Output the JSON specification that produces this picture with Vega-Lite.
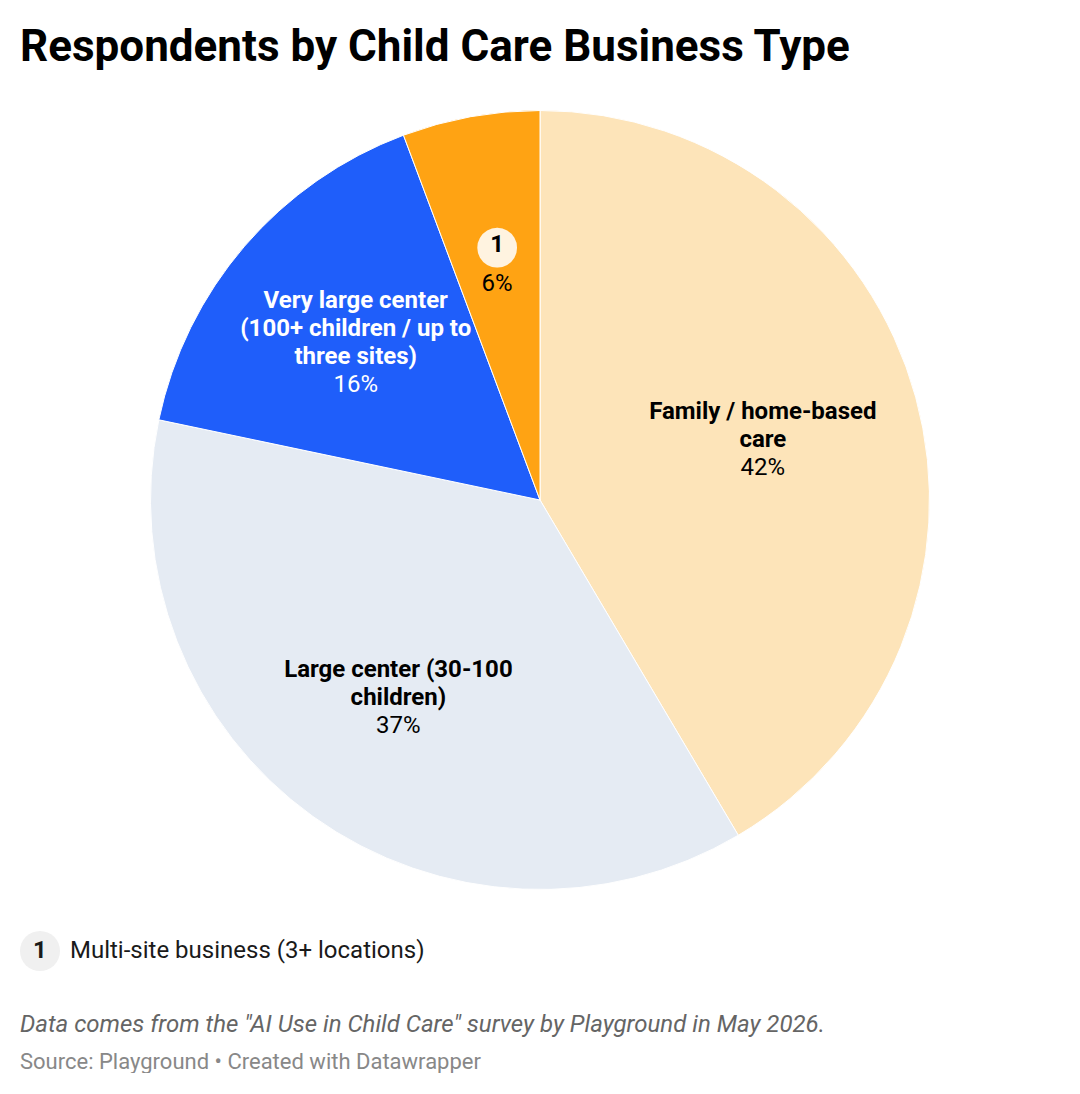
{
  "$schema": "https://vega.github.io/schema/vega-lite/v6.json",
  "padding": {"top": 26, "left": 0, "right": 0, "bottom": 0},
  "background": "white",
  "spacing": 0,
  "title": {
    "text": "Respondents by Child Care Business Type",
    "anchor": "start",
    "frame": "group",
    "dx": 20,
    "offset": 30,
    "font": "Roboto",
    "fontSize": 44,
    "fontWeight": 700,
    "color": "#000000"
  },
  "config": {"view": {"stroke": null}, "font": "Roboto"},
  "vconcat": [
    {
      "width": 1080,
      "height": 800,
      "data": {
        "values": [
          {"type": "Family / home-based care", "share": 41.5, "rank": 1, "name": "Family / home-based\ncare", "pct": "42%"},
          {"type": "Large center (30-100 children)", "share": 36.8, "rank": 2, "name": "Large center (30-100\nchildren)", "pct": "37%"},
          {"type": "Very large center (100+ children / up to three sites)", "share": 16.0, "rank": 3, "name": "Very large center\n(100+ children / up to\nthree sites)", "pct": "16%"},
          {"type": "Multi-site business (3+ locations)", "share": 5.7, "rank": 4, "name": "1", "pct": "6%"}
        ]
      },
      "encoding": {
        "theta": {"field": "share", "type": "quantitative", "stack": true},
        "order": {"field": "rank", "type": "ordinal"},
        "detail": {"field": "type", "type": "nominal"}
      },
      "layer": [
        {
          "mark": {"type": "arc", "outerRadius": 389.5, "stroke": "white", "strokeWidth": 1},
          "encoding": {
            "color": {
              "field": "type",
              "type": "nominal",
              "legend": null,
              "scale": {
                "domain": [
                  "Family / home-based care",
                  "Large center (30-100 children)",
                  "Very large center (100+ children / up to three sites)",
                  "Multi-site business (3+ locations)"
                ],
                "range": ["#fde4b9", "#e5ebf3", "#1f5efa", "#ffa313"]
              }
            }
          }
        },
        {
          "mark": {"type": "text", "lineBreak": "\n", "lineHeight": 28, "fontSize": 24, "fontWeight": 700, "dy": -27, "color": "#000000"},
          "encoding": {
            "text": {"condition": {"test": "datum.rank === 1", "field": "name", "type": "nominal"}, "value": ""},
            "radius": {"value": 231}
          }
        },
        {
          "mark": {"type": "text", "fontSize": 24, "dy": 29, "color": "#000000"},
          "encoding": {
            "text": {"condition": {"test": "datum.rank === 1", "field": "pct", "type": "nominal"}, "value": ""},
            "radius": {"value": 231}
          }
        },
        {
          "mark": {"type": "text", "lineBreak": "\n", "lineHeight": 28, "fontSize": 24, "fontWeight": 700, "dy": -27, "color": "#000000"},
          "encoding": {
            "text": {"condition": {"test": "datum.rank === 2", "field": "name", "type": "nominal"}, "value": ""},
            "radius": {"value": 243}
          }
        },
        {
          "mark": {"type": "text", "fontSize": 24, "dy": 29, "color": "#000000"},
          "encoding": {
            "text": {"condition": {"test": "datum.rank === 2", "field": "pct", "type": "nominal"}, "value": ""},
            "radius": {"value": 243}
          }
        },
        {
          "mark": {"type": "text", "lineBreak": "\n", "lineHeight": 28, "fontSize": 24, "fontWeight": 700, "dy": -41, "color": "#ffffff"},
          "encoding": {
            "text": {"condition": {"test": "datum.rank === 3", "field": "name", "type": "nominal"}, "value": ""},
            "radius": {"value": 243}
          }
        },
        {
          "mark": {"type": "text", "fontSize": 24, "dy": 43, "color": "#ffffff"},
          "encoding": {
            "text": {"condition": {"test": "datum.rank === 3", "field": "pct", "type": "nominal"}, "value": ""},
            "radius": {"value": 243}
          }
        },
        {
          "mark": {"type": "text", "fontSize": 52, "font": "DejaVu Sans", "dy": -18, "color": "#fff3e0"},
          "encoding": {
            "text": {"condition": {"test": "datum.rank === 4", "value": "●"}, "value": ""},
            "radius": {"value": 241}
          }
        },
        {
          "mark": {"type": "text", "fontSize": 24, "fontWeight": 700, "dy": -18, "color": "#000000"},
          "encoding": {
            "text": {"condition": {"test": "datum.rank === 4", "field": "name", "type": "nominal"}, "value": ""},
            "radius": {"value": 241}
          }
        },
        {
          "mark": {"type": "text", "fontSize": 24, "dy": 21, "color": "#000000"},
          "encoding": {
            "text": {"condition": {"test": "datum.rank === 4", "field": "pct", "type": "nominal"}, "value": ""},
            "radius": {"value": 241}
          }
        }
      ]
    },
    {
      "width": 1080,
      "height": 168,
      "data": {
        "values": [
          {"line": "note", "marker": "1", "text": "Multi-site business (3+ locations)"},
          {"line": "data", "text": "Data comes from the \"AI Use in Child Care\" survey by Playground in May 2026."},
          {"line": "source", "text": "Source: Playground • Created with Datawrapper"}
        ]
      },
      "encoding": {
        "y": {
          "field": "line",
          "type": "nominal",
          "axis": null,
          "scale": {"type": "point", "padding": 0, "domain": ["note", "gap", "data", "source"], "range": [51, 162]}
        }
      },
      "layer": [
        {
          "transform": [{"filter": "datum.line === 'note'"}],
          "mark": {"type": "point", "shape": "circle", "filled": true, "size": 1600, "color": "#f0f0f0", "opacity": 1},
          "encoding": {"x": {"datum": 40, "type": "quantitative", "axis": null, "scale": {"domain": [0, 1080]}}}
        },
        {
          "transform": [{"filter": "datum.line === 'note'"}],
          "mark": {"type": "text", "fontSize": 24, "fontWeight": 700, "color": "#1a1a1a"},
          "encoding": {
            "x": {"datum": 40, "type": "quantitative", "axis": null, "scale": {"domain": [0, 1080]}},
            "text": {"field": "marker", "type": "nominal"}
          }
        },
        {
          "transform": [{"filter": "datum.line === 'note'"}],
          "mark": {"type": "text", "align": "left", "fontSize": 24, "color": "#1a1a1a"},
          "encoding": {
            "x": {"datum": 70, "type": "quantitative", "axis": null, "scale": {"domain": [0, 1080]}},
            "text": {"field": "text", "type": "nominal"}
          }
        },
        {
          "transform": [{"filter": "datum.line === 'data'"}],
          "mark": {"type": "text", "align": "left", "fontSize": 24, "fontStyle": "italic", "color": "#656565"},
          "encoding": {
            "x": {"datum": 20, "type": "quantitative", "axis": null, "scale": {"domain": [0, 1080]}},
            "text": {"field": "text", "type": "nominal"}
          }
        },
        {
          "transform": [{"filter": "datum.line === 'source'"}],
          "mark": {"type": "text", "align": "left", "fontSize": 22, "color": "#888888"},
          "encoding": {
            "x": {"datum": 20, "type": "quantitative", "axis": null, "scale": {"domain": [0, 1080]}},
            "text": {"field": "text", "type": "nominal"}
          }
        }
      ]
    }
  ]
}
